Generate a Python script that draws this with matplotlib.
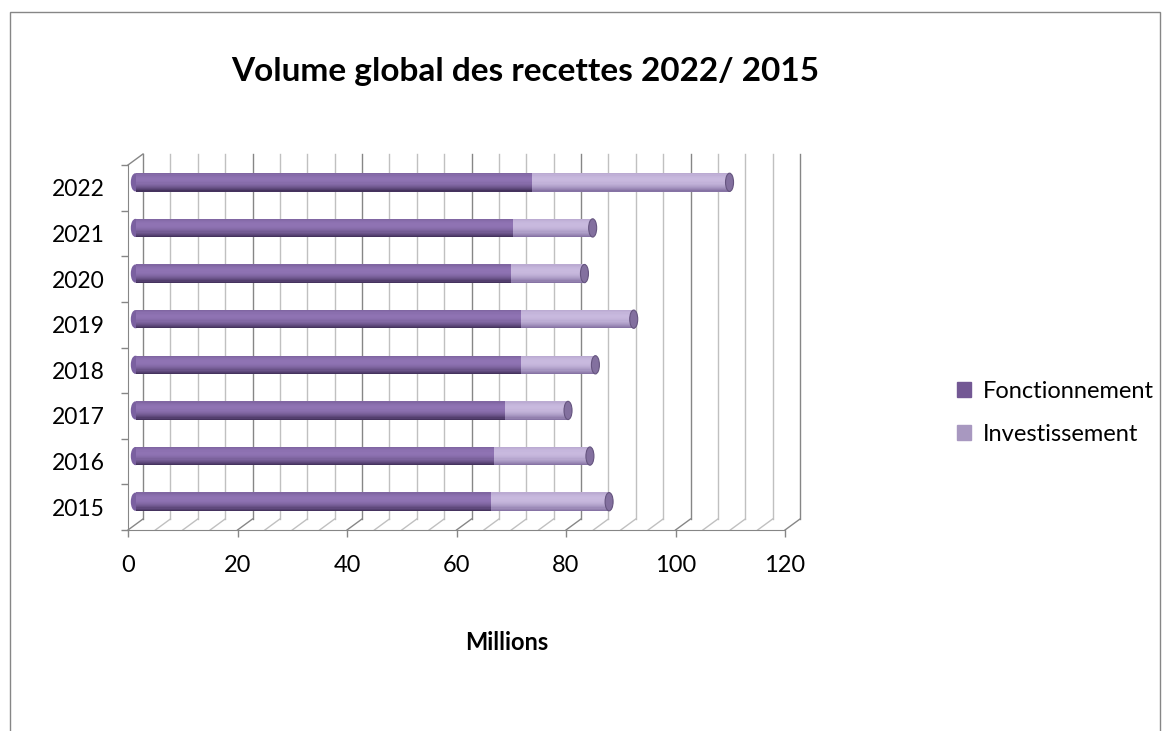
import matplotlib
matplotlib.use("Agg")
import matplotlib.pyplot as plt
import numpy as np
from matplotlib.patches import Ellipse, Rectangle
from matplotlib.lines import Line2D
from matplotlib.transforms import offset_copy, IdentityTransform
from matplotlib.colors import to_rgb

plt.rcParams['font.family'] = ['Lato', 'DejaVu Sans']

# data (millions)
years = ['2015', '2016', '2017', '2018', '2019', '2020', '2021', '2022']
fonctionnement = [65, 65.5, 67.5, 70.5, 70.5, 68.5, 69, 72.5]
investissement = [21.5, 17.5, 11.5, 13.5, 20.5, 13.5, 14.5, 36]
xticks = [0, 20, 40, 60, 80, 100, 120]

W, H = 1170, 731
fig = plt.figure(figsize=(W / 100, H / 100), dpi=100)

# front plane of the pseudo 3d box
ax = fig.add_axes([128 / W, 1 - 530 / H, 657 / W, 365 / H])
ax.set_xlim(0, 120)
ax.set_ylim(-0.5, len(years) - 0.5)
ax.patch.set_visible(False)
for s in ['top', 'right']:
    ax.spines[s].set_visible(False)
for s in ['left', 'bottom']:
    ax.spines[s].set_color('#868686')

DX, DY = 15, 11  # depth offset in pixels


def px(x, y, d):
    p = ax.transData.transform((x, y))
    return p[0] + d * DX, p[1] + d * DY


def seg(p0, p1, color, lw=1.0):
    ax.add_line(Line2D([p0[0], p1[0]], [p0[1], p1[1]], transform=IdentityTransform(),
                       color=color, lw=lw, clip_on=False, zorder=1))


ytop = len(years) - 0.5
for v in range(0, 121, 5):
    c = '#868686' if v % 20 == 0 else '#c0c0c0'
    seg(px(v, -0.5, 1), px(v, ytop, 1), c)
    seg(px(v, -0.5, 0), px(v, -0.5, 1), c)
seg(px(0, ytop, 0), px(0, ytop, 1), '#868686')

# cylinders drawn at mid depth
mid = offset_copy(ax.transData, fig=fig, x=DX * 0.5, y=DY * 0.5, units='dots')
bh = 0.4
N = 16
s = (np.arange(N) + 0.5) / N
t = np.clip(1 - ((s - 0.68) / 0.68) ** 2, 0, 1)


def shades(dark, light):
    d, l = np.array(to_rgb(dark)), np.array(to_rgb(light))
    return [tuple(d + (l - d) * v) for v in t]


f_sh = shades('#3e2d56', '#8f73b3')
i_sh = shades('#7f6c9e', '#c8b9de')
ypos = np.arange(len(years))
total = np.array(fonctionnement) + np.array(investissement)

for y in ypos:
    ax.add_patch(Ellipse((0, y), 1.46, bh * 0.92, transform=mid, color='#7a60a0',
                         zorder=2.9, clip_on=False))
for k in range(N):
    yy = ypos - bh / 2 + (k + 0.5) * bh / N
    ax.barh(yy, fonctionnement, height=bh / N * 1.15, left=0, color=f_sh[k],
            transform=mid, zorder=3, linewidth=0, clip_on=False)
    ax.barh(yy, investissement, height=bh / N * 1.15, left=fonctionnement, color=i_sh[k],
            transform=mid, zorder=3, linewidth=0, clip_on=False)
for y, tot in zip(ypos, total):
    ax.add_patch(Ellipse((tot, y), 1.46, bh, transform=mid, facecolor='#83709f',
                         edgecolor='#65547f', lw=0.8, zorder=4, clip_on=False))

# axes ticks
ax.set_xticks(xticks)
ax.tick_params(axis='x', length=5, width=1, color='#868686', pad=13, labelsize=17)
ax.set_yticks(np.arange(-0.5, len(years), 1))
ax.set_yticklabels([])
ax.set_yticks(ypos, minor=True)
ax.set_yticklabels(years, minor=True)
for lbl in ax.get_yticklabels(minor=True):
    lbl.set_va('center_baseline')
ax.tick_params(axis='y', which='major', length=5, width=1, color='#868686')
ax.tick_params(axis='y', which='minor', length=0, pad=17, labelsize=16.5)

fig.text(525 / W, 1 - 72 / H, 'Volume global des recettes 2022/ 2015',
         ha='center', va='center', fontsize=24, fontweight='bold')
fig.text(507 / W, 1 - 643 / H, 'Millions', ha='center', va='center',
         fontsize=17, fontweight='bold')

handles = [Rectangle((0, 0), 1, 1, color='#735894'), Rectangle((0, 0), 1, 1, color='#a898c0')]
fig.legend(handles, ['Fonctionnement', 'Investissement'], loc='center left',
           bbox_to_anchor=(936 / W, 1 - 413 / H), frameon=False, fontsize=17,
           handlelength=0.6, handleheight=0.6, handletextpad=0.5, labelspacing=0.95)

fig.add_artist(Rectangle((10 / W, -0.05), 1150 / W, 1 - 12 / H + 0.05,
                         transform=fig.transFigure, fill=False, edgecolor='#868686', lw=1))

fig.savefig('out.png', dpi=100)
